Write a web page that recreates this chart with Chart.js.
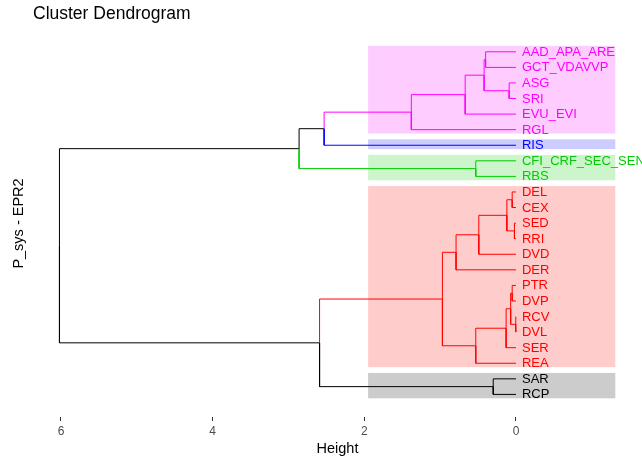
<!DOCTYPE html>
<html>
<head>
<meta charset="utf-8">
<script src="https://cdn.jsdelivr.net/npm/chart.js@4.4.3/dist/chart.umd.min.js"></script>
<style>
    html, body { margin: 0; padding: 0; background: #ffffff; }
    canvas { display: block; }
</style>
</head>
<body>
<canvas id="dendro" width="642" height="459"></canvas>
<script>
    'use strict';

    // leaves, top to bottom
    const leafLabels = [
        'AAD_APA_ARE', 'GCT_VDAVVP', 'ASG', 'SRI', 'EVU_EVI', 'RGL', 'RIS',
        'CFI_CRF_SEC_SEN', 'RBS', 'DEL', 'CEX', 'SED', 'RRI', 'DVD', 'DER',
        'PTR', 'DVP', 'RCV', 'DVL', 'SER', 'REA', 'SAR', 'RCP',
    ];
    // cluster of each leaf (k = 5)
    const leafGroup = [0, 0, 0, 0, 0, 0, 1, 2, 2, 3, 3, 3, 3, 3, 3, 3, 3, 3, 3, 3, 3, 4, 4];
    const groupColors = ['#FF00FF', '#0000FF', '#00CD00', '#FF0000', '#000000'];

    // hclust style merges: negative = leaf (-(index+1)), positive = earlier merge step
    const mergeLeft = [-18, -12, -10, -16, 4, -3, 3, 5, -22, -1, 10, 7, -8, 8, 11, 12, 16, 15, 18, 19, 17, 20];
    const mergeRight = [-19, -13, -11, -17, 1, -4, 2, -20, -23, -2, 6, -14, -9, -21, -5, -15, 14, -6, -7, 13, 9, 21];
    const mergeHeight = [0.005, 0.02, 0.05, 0.05, 0.07, 0.09, 0.12, 0.13, 0.30, 0.40, 0.42, 0.49, 0.53, 0.53,
        0.67, 0.79, 0.97, 1.38, 2.53, 2.86, 2.59, 6.02];

    const tickValues = [6, 4, 2, 0];

    // build the tree geometry from the merge table
    function nodeInfo(ref, nodes) {
        if (ref < 0) {
            const i = -ref - 1;
            return { h: 0, y: i, group: leafGroup[i], first: i, last: i };
        }
        return nodes[ref - 1];
    }

    function buildSegments() {
        const nodes = [];
        const segments = [];
        mergeLeft.forEach((l, k) => {
            const a = nodeInfo(l, nodes);
            const b = nodeInfo(mergeRight[k], nodes);
            const h = mergeHeight[k];
            const y = (a.y + b.y) / 2;
            [a, b].forEach((c) => {
                segments.push({
                    color: c.group >= 0 ? groupColors[c.group] : '#000000',
                    points: [
                        { x: h, y: y },
                        { x: h, y: c.y },
                        { x: c.h, y: c.y },
                    ],
                });
            });
            nodes.push({
                h: h,
                y: y,
                group: a.group === b.group ? a.group : -1,
                first: Math.min(a.first, b.first),
                last: Math.max(a.last, b.last),
            });
        });
        return segments;
    }

    function groupRanges() {
        const ranges = [];
        leafGroup.forEach((g, i) => {
            if (!ranges[g]) ranges[g] = { first: i, last: i };
            ranges[g].last = i;
        });
        return ranges;
    }

    const rectPlugin = {
        id: 'clusterRects',
        beforeDatasetsDraw(chart) {
            const { ctx, scales } = chart;
            const x = scales.x;
            const y = scales.y;
            ctx.save();
            groupRanges().forEach((r, g) => {
                const left = x.getPixelForValue(1.95);
                const right = x.getPixelForValue(-1.31);
                const top = y.getPixelForValue(r.first - 0.38);
                const bottom = y.getPixelForValue(r.last + 0.25);
                ctx.globalAlpha = 0.2;
                ctx.fillStyle = groupColors[g];
                ctx.fillRect(left, top, right - left, bottom - top);
            });
            ctx.restore();
        },
    };

    const leafLabelPlugin = {
        id: 'leafLabels',
        afterDatasetsDraw(chart) {
            const { ctx, scales } = chart;
            ctx.save();
            ctx.font = '13px "Liberation Sans", Arial, sans-serif';
            ctx.textBaseline = 'middle';
            ctx.textAlign = 'left';
            leafLabels.forEach((label, i) => {
                ctx.fillStyle = groupColors[leafGroup[i]];
                ctx.fillText(label, scales.x.getPixelForValue(0) + 6, scales.y.getPixelForValue(i) + 0.5);
            });
            ctx.restore();
        },
    };

    const datasets = buildSegments().map((s) => ({
        data: s.points,
        borderColor: s.color,
        borderWidth: 1,
        pointRadius: 0,
        showLine: true,
        fill: false,
        tension: 0,
    }));

    // eslint-disable-next-line no-undef
    new Chart(document.getElementById('dendro'), {
        type: 'scatter',
        data: { datasets },
        plugins: [rectPlugin, leafLabelPlugin],
        options: {
            responsive: false,
            animation: false,
            layout: { padding: { left: 10, right: 0, top: 0, bottom: 0 } },
            plugins: {
                legend: { display: false },
                tooltip: { enabled: false },
                title: {
                    display: true,
                    text: 'Cluster Dendrogram',
                    align: 'start',
                    fullSize: false,
                    color: '#000000',
                    font: { family: '"Liberation Sans", Arial, sans-serif', size: 17.5, weight: 'normal' },
                    padding: { top: 4, bottom: 5 },
                },
            },
            scales: {
                x: {
                    type: 'linear',
                    reverse: true,
                    min: -1.662,
                    max: 6.369,
                    afterBuildTicks: (scale) => {
                        scale.ticks = tickValues.map((v) => ({ value: v }));
                    },
                    afterFit: (scale) => {
                        scale.height = 42;
                    },
                    border: { display: false },
                    grid: {
                        drawOnChartArea: false,
                        drawTicks: true,
                        tickLength: 4,
                        color: '#333333',
                    },
                    ticks: {
                        color: '#4D4D4D',
                        padding: 3,
                        font: { family: '"Liberation Sans", Arial, sans-serif', size: 12 },
                    },
                    title: {
                        display: true,
                        text: 'Height',
                        color: '#000000',
                        font: { family: '"Liberation Sans", Arial, sans-serif', size: 14.5 },
                        padding: { top: 0, bottom: 1 },
                    },
                },
                y: {
                    type: 'linear',
                    reverse: true,
                    min: -1.40,
                    max: 23.45,
                    afterFit: (scale) => {
                        scale.width = 23;
                    },
                    border: { display: false },
                    grid: { display: false },
                    ticks: { display: false },
                    title: {
                        display: true,
                        text: 'P_sys - EPR2',
                        color: '#000000',
                        font: { family: '"Liberation Sans", Arial, sans-serif', size: 14.5 },
                        padding: { top: 0, bottom: 0 },
                    },
                },
            },
        },
    });
</script>
</body>
</html>
